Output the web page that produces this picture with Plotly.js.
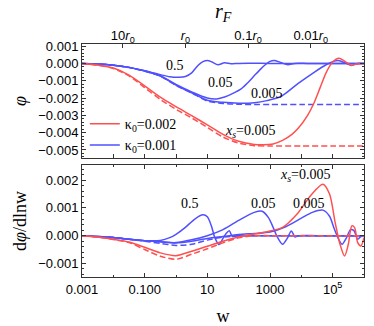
<!DOCTYPE html>
<html>
<head>
<meta charset="utf-8">
<script src="https://cdn.plot.ly/plotly-3.0.1.min.js"></script>
<style>
  body { margin: 0; background: #fff; }
  #chart { width: 374px; height: 326px; }
</style>
</head>
<body>
<div id="chart"></div>
<script>
// log10(w) sample points and values

// top panel: phi
var phiRedLw   = [-3, -2.5, -2, -1.5, -1, -0.5, 0, 0.5, 1, 1.5, 2, 2.5, 2.8, 3.1, 3.4, 3.7, 3.9, 4.2, 4.4, 4.6, 4.8, 5.0, 5.2, 5.4, 5.6, 5.75, 6];
var phiRed     = [0, -0.0001, -0.00027, -0.00068, -0.0013, -0.00195, -0.0025, -0.00302, -0.00355, -0.0041, -0.0045, -0.00468, -0.0047, -0.00465, -0.00445, -0.0041, -0.00375, -0.003, -0.0023, -0.0014, -0.0005, 0.00008, 0.0003, 0.0001, -0.00011, -0.00004, 0];
var phiRedDashLw = [-3, -2.5, -2, -1.5, -1, -0.5, 0, 0.5, 1, 1.5, 2, 2.5, 3, 4, 5, 6];
var phiRedDash   = [0, -0.0001, -0.00029, -0.00072, -0.0014, -0.00208, -0.00265, -0.00315, -0.0037, -0.00425, -0.0046, -0.00475, -0.00477, -0.00477, -0.00477, -0.00477];

var phiB05Lw  = [-3, -2.5, -2, -1.5, -1, -0.5, -0.2, 0.1, 0.3, 0.5, 0.7, 0.86, 1.0, 1.15, 1.34, 1.55, 1.75, 2, 3, 4, 5, 6];
var phiB05    = [0, -0.00003, -0.0001, -0.00023, -0.00042, -0.00065, -0.00077, -0.0008, -0.00076, -0.00055, -0.00012, 0.0001, 0.00017, 0.00008, -0.00008, 0.00004, -0.00002, 0, 0, 0, 0, 0];
var phiB005Lw = [-3, -2.5, -2, -1.5, -1, -0.5, 0, 0.5, 1, 1.3, 1.55, 1.8, 2.09, 2.3, 2.51, 2.7, 2.85, 3.0, 3.15, 3.36, 3.57, 3.78, 4.2, 5, 6];
var phiB005   = [0, -0.00003, -0.0001, -0.00023, -0.00043, -0.00072, -0.00122, -0.00165, -0.002, -0.00205, -0.00194, -0.00175, -0.00146, -0.0011, -0.00069, -0.00033, -0.00008, 0.00012, 0.00017, 0.00004, -0.00008, 0, 0, 0, 0];
var phiB0005Lw = [-3, -2.5, -2, -1.5, -1, -0.5, 0, 0.5, 1, 1.5, 2, 2.5, 2.9, 3.36, 3.89, 4.42, 4.79, 5.0, 5.18, 5.43, 5.6, 5.8, 6];
var phiB0005   = [0, -0.00003, -0.0001, -0.00023, -0.00044, -0.00073, -0.00125, -0.0017, -0.00213, -0.00225, -0.0023, -0.00227, -0.00215, -0.0019, -0.00117, -0.0005, -0.00008, 0.0001, 0.00017, 0, -0.00012, 0, 0];
var phiBDashLw = [-3, -2.5, -2, -1.5, -1, -0.5, 0, 0.5, 1, 1.5, 2, 2.5, 3, 4, 5, 6];
var phiBDash   = [0, -0.00003, -0.0001, -0.00024, -0.00045, -0.00074, -0.00127, -0.0017, -0.00217, -0.00231, -0.00236, -0.00237, -0.00237, -0.00237, -0.00237, -0.00237];

// bottom panel: dphi/dlnw
var dRedLw = [-3, -2.5, -2, -1.5, -1, -0.5, 0, 0.5, 1, 1.5, 2, 2.5, 3, 3.4, 3.9, 4.3, 4.69, 4.9, 5.08, 5.22, 5.38, 5.5, 5.61, 5.7, 5.8, 5.9, 6];
var dRed   = [0, -0.00005, -0.00013, -0.00023, -0.00042, -0.00062, -0.00072, -0.00056, -0.00038, -0.0002, -0.00005, 0.00006, 0.00017, 0.0003, 0.00083, 0.00145, 0.00185, 0.0015, 0.00047, -0.00025, -0.00073, -0.00031, 0.00035, 0.00029, -0.00025, -0.00037, -0.00007];
var dRedDashLw = [-3, -2.5, -2, -1.5, -1, -0.5, 0, 0.5, 1, 1.5, 2, 2.5, 3, 4, 5, 6];
var dRedDash   = [0, -0.00005, -0.00014, -0.00025, -0.0005, -0.00074, -0.00085, -0.00067, -0.00047, -0.00026, -0.00008, 0, 0, 0, 0, 0];

var dB05Lw = [-3, -2.5, -2, -1.5, -1, -0.5, -0.2, 0, 0.3, 0.6, 0.86, 1.0, 1.13, 1.24, 1.37, 1.5, 1.6, 1.7, 1.8, 1.92, 2.2, 3, 4, 5, 6];
var dB05   = [0, -0.00003, -0.00007, -0.00013, -0.00018, -0.00017, -0.00007, 0.00005, 0.0003, 0.0006, 0.00075, 0.00068, 0.00035, -0.00007, -0.00032, -0.0001, 0.00008, 0.00018, -0.00003, 0, 0, 0, 0, 0, 0];
var dB005Lw = [-3, -2.5, -2, -1.5, -1, -0.5, 0, 0.5, 1, 1.5, 2, 2.5, 2.75, 2.95, 3.1, 3.22, 3.4, 3.55, 3.68, 3.8, 3.9, 4.5, 5, 6];
var dB005   = [0, -0.00003, -0.00007, -0.00013, -0.00018, -0.00022, -0.00025, -0.00015, 0, 0.00022, 0.00055, 0.00084, 0.00088, 0.00065, 0.0003, -0.00002, -0.00031, -0.0001, 0.00017, -0.00005, 0, 0, 0, 0];
var dB0005Lw = [-3, -2.5, -2, -1.5, -1, -0.5, 0, 0.5, 1, 1.5, 2, 2.5, 3, 3.5, 4, 4.35, 4.69, 4.9, 5.05, 5.2, 5.3, 5.43, 5.57, 5.68, 5.8, 5.9, 6];
var dB0005   = [0, -0.00003, -0.00007, -0.00013, -0.00018, -0.00022, -0.00026, -0.0002, -0.0001, -0.00003, 0.00004, 0.00008, 0.00013, 0.00032, 0.00063, 0.00084, 0.00092, 0.0007, 0.00025, -0.00015, -0.00031, -0.0001, 0.00022, 0.00018, -0.00013, -0.00003, 0];
var dBDashLw = [-3, -2.5, -2, -1.5, -1, -0.5, 0, 0.5, 1, 1.5, 2, 2.5, 3, 4, 5, 6];
var dBDash   = [0, -0.00003, -0.00007, -0.00013, -0.0002, -0.00028, -0.00035, -0.00031, -0.00016, -0.00005, -0.00001, 0, 0, 0, 0, 0];

var rFTickW = [0.02, 2, 200, 20000];
var rFTickText = ["10<i>r</i><sub>0</sub>", "<i>r</i><sub>0</sub>", "0.1<i>r</i><sub>0</sub>", "0.01<i>r</i><sub>0</sub>"];
var wTickVals = [0.001, 0.1, 10, 1000, 100000];
var wTickText = ["0.001", "0.100", "10", "1000", "10<sup>5</sup>"];

var RED = "#ff5050";
var BLUE = "#5050ff";
var SERIF = "Liberation Serif, Times New Roman, serif";
var SANS = "Liberation Sans, Arial, sans-serif";

function toW(lw) {
  return lw.map(function (v) { return Math.pow(10, v); });
}

function line(lw, y, color, dashed, xa, ya, name) {
  return {
    x: toW(lw),
    y: y,
    xaxis: xa,
    yaxis: ya,
    mode: "lines",
    name: name || "",
    showlegend: !!name,
    line: { color: color, width: 1.5, dash: dashed ? "6px,3px" : "solid", shape: "spline", smoothing: 0.8 },
    hoverinfo: "skip",
  };
}

var traces = [
  line(phiBDashLw, phiBDash, BLUE, true, "x", "y"),
  line(phiB0005Lw, phiB0005, BLUE, false, "x", "y"),
  line(phiB005Lw, phiB005, BLUE, false, "x", "y"),
  line(phiB05Lw, phiB05, BLUE, false, "x", "y", "κ<sub>0</sub>=0.001"),
  line(phiRedDashLw, phiRedDash, RED, true, "x", "y"),
  line(phiRedLw, phiRed, RED, false, "x", "y", "κ<sub>0</sub>=0.002"),
  line(dBDashLw, dBDash, BLUE, true, "x2", "y2"),
  line(dB0005Lw, dB0005, BLUE, false, "x2", "y2"),
  line(dB005Lw, dB005, BLUE, false, "x2", "y2"),
  line(dB05Lw, dB05, BLUE, false, "x2", "y2"),
  line(dRedDashLw, dRedDash, RED, true, "x2", "y2"),
  line(dRedLw, dRed, RED, false, "x2", "y2"),
  // empty trace so the r_F axis on top gets drawn
  {
    x: rFTickW,
    y: rFTickW.map(function () { return null; }),
    xaxis: "x3",
    yaxis: "y",
    mode: "lines",
    showlegend: false,
    hoverinfo: "skip",
  },
];

var frame = "#333";
var tickFont = { family: SANS, size: 13, color: "#000" };

function yax(domain, range, anchor, title) {
  return {
    domain: domain,
    anchor: anchor,
    range: range,
    dtick: 0.001,
    tickformat: ".3f",
    ticks: "inside",
    ticklen: 4,
    tickcolor: frame,
    showline: true,
    linecolor: frame,
    linewidth: 1,
    mirror: "ticks",
    showgrid: false,
    zeroline: false,
    tickfont: tickFont,
    minor: { dtick: 0.0002, ticks: "inside", ticklen: 2, tickcolor: frame, showgrid: false },
    title: { text: title, font: { family: SERIF, size: 18, color: "#000" }, standoff: 6 },
  };
}

var layout = {
  width: 374,
  height: 326,
  margin: { l: 82, r: 10, t: 44, b: 49 },
  paper_bgcolor: "#fff",
  plot_bgcolor: "#fff",
  showlegend: true,
  legend: {
    x: 0.01,
    y: 0.725,
    xanchor: "left",
    yanchor: "top",
    traceorder: "reversed",
    bgcolor: "rgba(0,0,0,0)",
    font: { family: SERIF, size: 14, color: "#000" },
    itemwidth: 30,
    tracegroupgap: 0,
  },
  xaxis: {
    domain: [0, 1],
    anchor: "y",
    type: "log",
    range: [-3, 6],
    dtick: 1,
    showticklabels: false,
    ticks: "inside",
    ticklen: 4,
    tickcolor: frame,
    showline: true,
    linecolor: frame,
    mirror: true,
    showgrid: false,
    zeroline: false,
  },
  xaxis3: {
    overlaying: "x",
    anchor: "y",
    side: "top",
    type: "log",
    range: [-3, 6],
    tickmode: "array",
    tickvals: rFTickW,
    ticktext: rFTickText,
    ticks: "inside",
    ticklen: 4,
    tickcolor: frame,
    showline: false,
    showgrid: false,
    zeroline: false,
    tickfont: tickFont,
  },
  xaxis2: {
    domain: [0, 1],
    anchor: "y2",
    type: "log",
    range: [-3, 6],
    tickmode: "array",
    tickvals: wTickVals,
    ticktext: wTickText,
    ticks: "inside",
    ticklen: 4,
    tickcolor: frame,
    showline: true,
    linecolor: frame,
    mirror: "ticks",
    showgrid: false,
    zeroline: false,
    tickfont: tickFont,
    minor: { tickmode: "array", tickvals: [0.01, 1, 100, 10000, 1000000], ticks: "inside", ticklen: 2, tickcolor: frame, showgrid: false },
    title: { text: "w", font: { family: SERIF, size: 18, color: "#000" }, standoff: 14 },
  },
  yaxis: yax([0.511, 1], [-0.00546, 0.00112], "x", "<i>φ</i>"),
  yaxis2: yax([0, 0.481], [-0.00149, 0.00255], "x2", "d<i>φ</i>/dlnw"),
  annotations: [
    { text: "<i>r</i><sub><i>F</i></sub>", xref: "paper", yref: "paper", x: 0.5, y: 1.137, xanchor: "center", yanchor: "middle", showarrow: false, font: { family: SERIF, size: 20, color: "#000" } },
    { text: "0.5", xref: "x", yref: "y", x: -0.04, y: -0.0001, showarrow: false, font: { family: SERIF, size: 14, color: "#000" } },
    { text: "0.05", xref: "x", yref: "y", x: 1.43, y: -0.00108, showarrow: false, font: { family: SERIF, size: 14, color: "#000" } },
    { text: "0.005", xref: "x", yref: "y", x: 2.89, y: -0.00171, showarrow: false, font: { family: SERIF, size: 14, color: "#000" } },
    { text: "<i>x<sub>s</sub></i>=0.005", xref: "x", yref: "y", x: 2.35, y: -0.00396, showarrow: false, font: { family: SERIF, size: 14, color: "#000" } },
    { text: "<i>x<sub>s</sub></i>=0.005", xref: "x2", yref: "y2", x: 4.13, y: 0.00217, showarrow: false, font: { family: SERIF, size: 14, color: "#000" } },
    { text: "0.5", xref: "x2", yref: "y2", x: 0.44, y: 0.00115, showarrow: false, font: { family: SERIF, size: 14, color: "#000" } },
    { text: "0.05", xref: "x2", yref: "y2", x: 2.8, y: 0.00115, showarrow: false, font: { family: SERIF, size: 14, color: "#000" } },
    { text: "0.005", xref: "x2", yref: "y2", x: 4.26, y: 0.00115, showarrow: false, font: { family: SERIF, size: 14, color: "#000" } },
  ],
};

Plotly.newPlot("chart", traces, layout, { displayModeBar: false, staticPlot: true });
</script>
</body>
</html>
